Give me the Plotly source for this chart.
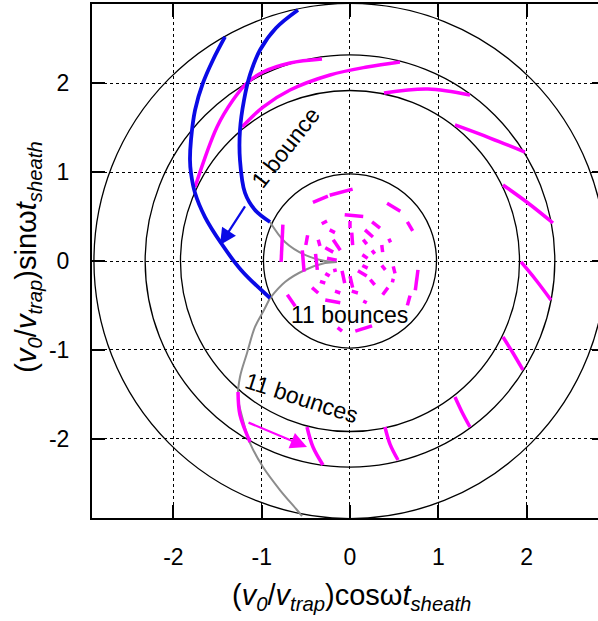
import plotly.graph_objects as go

# ---------------- data ----------------
CIRCLE_RADII = [0.98, 1.92, 2.32, 2.90]
TICKS = [-2, -1, 0, 1, 2]
TICK_TEXT = ["-2", "-1", "0", "1", "2"]

BLUE1_X = [-1.416, -1.552, -1.665, -1.755, -1.801, -1.812, -1.801, -1.755, -1.642, -1.461, -1.234, -0.906]
BLUE1_Y = [2.523, 2.264, 2.005, 1.700, 1.363, 1.137, 0.991, 0.766, 0.495, 0.203, -0.101, -0.417]
BLUE2_X = [-0.589, -0.838, -1.019, -1.133, -1.200, -1.246, -1.246, -1.189, -1.076, -0.906]
BLUE2_Y = [2.827, 2.624, 2.376, 2.095, 1.813, 1.475, 1.137, 0.766, 0.574, 0.439]

GRAY_UP_X = [-0.906, -0.736, -0.510, -0.283, -0.15]
GRAY_UP_Y = [0.439, 0.214, 0.068, 0.000, -0.01]
GRAY_LOW_X = [-0.906, -0.736, -0.510, -0.283, -0.15]
GRAY_LOW_Y = [-0.417, -0.236, -0.101, -0.023, -0.01]
GRAY_DOWN_X = [-0.906, -0.974, -1.076, -1.166, -1.246, -1.268, -1.212, -1.132, -0.985, -0.793, -0.600, -0.544]
GRAY_DOWN_Y = [-0.417, -0.552, -0.743, -1.036, -1.306, -1.532, -1.791, -2.050, -2.320, -2.579, -2.804, -2.872]

# magenta segments between the r~1.9 and r~2.3 rings (one list per segment)
SEG_X = [
    [-1.755, -1.506, -1.325, -1.166, -0.985, -0.679, -0.317],
    [-1.223, -0.985, -0.679, -0.226, 0.193, 0.566],
    [0.385, 0.883, 1.359],
    [1.189, 1.586, 1.982],
    [1.733, 2.016, 2.299],
    [1.937, 2.106, 2.276],
    [1.733, 1.846, 1.959],
    [1.189, 1.268, 1.359],
    [0.396, 0.453, 0.544],
    [-0.487, -0.419, -0.306],
    [-1.268, -1.246, -1.132],
]
SEG_Y = [
    [0.833, 1.509, 1.813, 2.005, 2.128, 2.230, 2.275],
    [1.509, 1.734, 1.926, 2.095, 2.185, 2.241],
    [1.892, 1.937, 1.869],
    [1.532, 1.385, 1.227],
    [0.856, 0.653, 0.428],
    [-0.011, -0.214, -0.439],
    [-0.856, -1.036, -1.227],
    [-1.532, -1.700, -1.869],
    [-1.869, -2.061, -2.241],
    [-1.869, -2.095, -2.297],
    [-1.475, -1.734, -2.038],
]

# short magenta dashes inside the inner ring (start / end of each dash)
DASH_X0 = [-0.42, -0.23, 0.42, 0.65, -0.06, 0.25, -0.32, -0.23, 0.00, 0.02, 0.17, 0.15, 0.44, -0.48,
           -0.36, -0.19, -0.28, 0.36, 0.25, 0.14, -0.76, -0.54, -0.39, -0.26, -0.28, -0.19, -0.34,
           -0.43, -0.17, -0.28, -0.09, 0.00, 0.02, 0.15, 0.09, 0.23, 0.14, 0.36, 0.49, 0.37, 0.49,
           0.77, 0.68, -0.71, -0.14, 0.06]
DASH_Y0 = [0.66, 0.74, 0.65, 0.44, 0.52, 0.44, 0.42, 0.35, 0.45, 0.32, 0.35, 0.24, 0.25, 0.29,
           0.24, 0.24, 0.15, 0.18, 0.12, 0.07, 0.41, 0.12, 0.08, 0.03, -0.14, -0.11, -0.23,
           -0.30, -0.34, -0.44, -0.11, -0.17, -0.34, -0.45, -0.11, -0.21, -0.05, -0.05, -0.06, -0.38, -0.20,
           -0.10, -0.39, -0.38, -0.75, -0.79]
DASH_X1 = [-0.25, 0.03, 0.57, 0.71, 0.15, 0.34, -0.26, -0.17, 0.00, 0.03, 0.26, 0.19, 0.46, -0.50,
           -0.34, -0.11, -0.19, 0.37, 0.28, 0.20, -0.78, -0.52, -0.37, -0.15, -0.23, -0.15, -0.28,
           -0.36, -0.11, -0.11, -0.06, 0.03, 0.09, 0.19, 0.19, 0.28, 0.20, 0.40, 0.51, 0.43, 0.48,
           0.74, 0.65, -0.62, -0.09, 0.25]
DASH_Y1 = [0.73, 0.81, 0.56, 0.34, 0.50, 0.37, 0.45, 0.32, 0.37, 0.18, 0.27, 0.19, 0.21, 0.18,
           0.17, 0.12, 0.10, 0.10, 0.08, 0.03, -0.01, -0.12, -0.10, 0.01, -0.17, -0.10, -0.25,
           -0.36, -0.36, -0.47, -0.25, -0.30, -0.36, -0.47, -0.17, -0.27, -0.08, -0.10, -0.14, -0.30, -0.24,
           -0.33, -0.50, -0.51, -0.79, -0.73]

BLUE_ARROW = dict(tail=(-1.178, 0.631), tip=(-1.472, 0.180))
MAGENTA_ARROW = dict(tail=(-1.166, -1.813), tip=(-0.487, -2.095))

LABELS = [
    dict(text="1 bounce", x=-0.725, y=1.284, angle=-52),
    dict(text="11 bounces", x=0.0, y=-0.61, angle=0),
    dict(text="11 bounces", x=-0.544, y=-1.543, angle=18),
]

X_RANGE = [-2.922, 2.809]
Y_RANGE = [-2.894, 2.894]

# ---------------- styles ----------------
FONT = "Liberation Sans, Arial, Helvetica, sans-serif"
BLUE = "#0a0ae6"
MAGENTA = "#ff00ff"
GRAY = "#8c8c8c"

fig = go.Figure()

# gray trajectories
for xs, ys in [(GRAY_UP_X, GRAY_UP_Y), (GRAY_LOW_X, GRAY_LOW_Y), (GRAY_DOWN_X, GRAY_DOWN_Y)]:
    fig.add_trace(go.Scatter(x=xs, y=ys, mode="lines", line=dict(color=GRAY, width=2, shape="spline"),
                             hoverinfo="skip", showlegend=False))

# inner dashed pattern
dx, dy = [], []
for a, b, c, d in zip(DASH_X0, DASH_Y0, DASH_X1, DASH_Y1):
    dx += [a, c, None]
    dy += [b, d, None]
fig.add_trace(go.Scatter(x=dx, y=dy, mode="lines", line=dict(color=MAGENTA, width=3.5),
                         hoverinfo="skip", showlegend=False))

# magenta segments
for xs, ys in zip(SEG_X, SEG_Y):
    fig.add_trace(go.Scatter(x=xs, y=ys, mode="lines", line=dict(color=MAGENTA, width=3.5, shape="spline"),
                             hoverinfo="skip", showlegend=False))

# blue trajectories
for xs, ys in [(BLUE1_X, BLUE1_Y), (BLUE2_X, BLUE2_Y)]:
    fig.add_trace(go.Scatter(x=xs, y=ys, mode="lines", line=dict(color=BLUE, width=3.8, shape="spline"),
                             hoverinfo="skip", showlegend=False))

# dummy trace for right-hand tick axis
fig.add_trace(go.Scatter(x=[None], y=[None], yaxis="y2", showlegend=False, hoverinfo="skip"))

# circles
for r in CIRCLE_RADII:
    fig.add_shape(type="circle", xref="x", yref="y", x0=-r, y0=-r, x1=r, y1=r,
                  line=dict(color="black", width=1.3), layer="between")

# arrows
for arr, col in [(BLUE_ARROW, BLUE), (MAGENTA_ARROW, MAGENTA)]:
    fig.add_annotation(x=arr["tip"][0], y=arr["tip"][1], ax=arr["tail"][0], ay=arr["tail"][1],
                       xref="x", yref="y", axref="x", ayref="y", text="", showarrow=True,
                       arrowhead=2, arrowsize=1.5, arrowwidth=2.2, arrowcolor=col)

for lab in LABELS:
    fig.add_annotation(x=lab["x"], y=lab["y"], xref="x", yref="y", text=lab["text"], showarrow=False,
                       textangle=lab["angle"], font=dict(family=FONT, size=23, color="black"),
                       xanchor="center", yanchor="middle")

# axis titles
fig.add_annotation(xref="paper", yref="paper", x=0.512, y=-0.154, showarrow=False,
                   text="(<i>v<sub>0</sub></i>/<i>v<sub>trap</sub></i>)cosω<i>t<sub>sheath</sub></i>",
                   font=dict(family=FONT, size=29, color="black"), xanchor="center", yanchor="middle")
fig.add_annotation(xref="paper", yref="paper", x=-0.127, y=0.508, showarrow=False, textangle=-90,
                   text="(<i>v<sub>0</sub></i>/<i>v<sub>trap</sub></i>)sinω<i>t<sub>sheath</sub></i>",
                   font=dict(family=FONT, size=29, color="black"), xanchor="center", yanchor="middle")

axis_common = dict(
    tickvals=TICKS, ticktext=TICK_TEXT, ticks="inside", ticklen=13, tickwidth=2, tickcolor="black",
    showgrid=True, gridcolor="black", gridwidth=1, griddash="dot", zeroline=False,
    tickfont=dict(family=FONT, size=23, color="black"),
    showline=True, linecolor="black", linewidth=2,
)
fig.update_layout(
    width=598, height=621,
    margin=dict(l=92, r=0, t=4, b=103),
    paper_bgcolor="white", plot_bgcolor="white",
    xaxis=dict(range=X_RANGE, mirror="ticks", ticklabelstandoff=17, **axis_common),
    yaxis=dict(range=Y_RANGE, mirror=False, ticklabelstandoff=16, **axis_common),
    yaxis2=dict(range=Y_RANGE, overlaying="y", side="right", tickvals=TICKS, ticks="inside",
                ticklen=6, tickwidth=2, tickcolor="black", showticklabels=False,
                showgrid=False, zeroline=False, showline=False),
    showlegend=False,
)

fig.write_html("out.html")
